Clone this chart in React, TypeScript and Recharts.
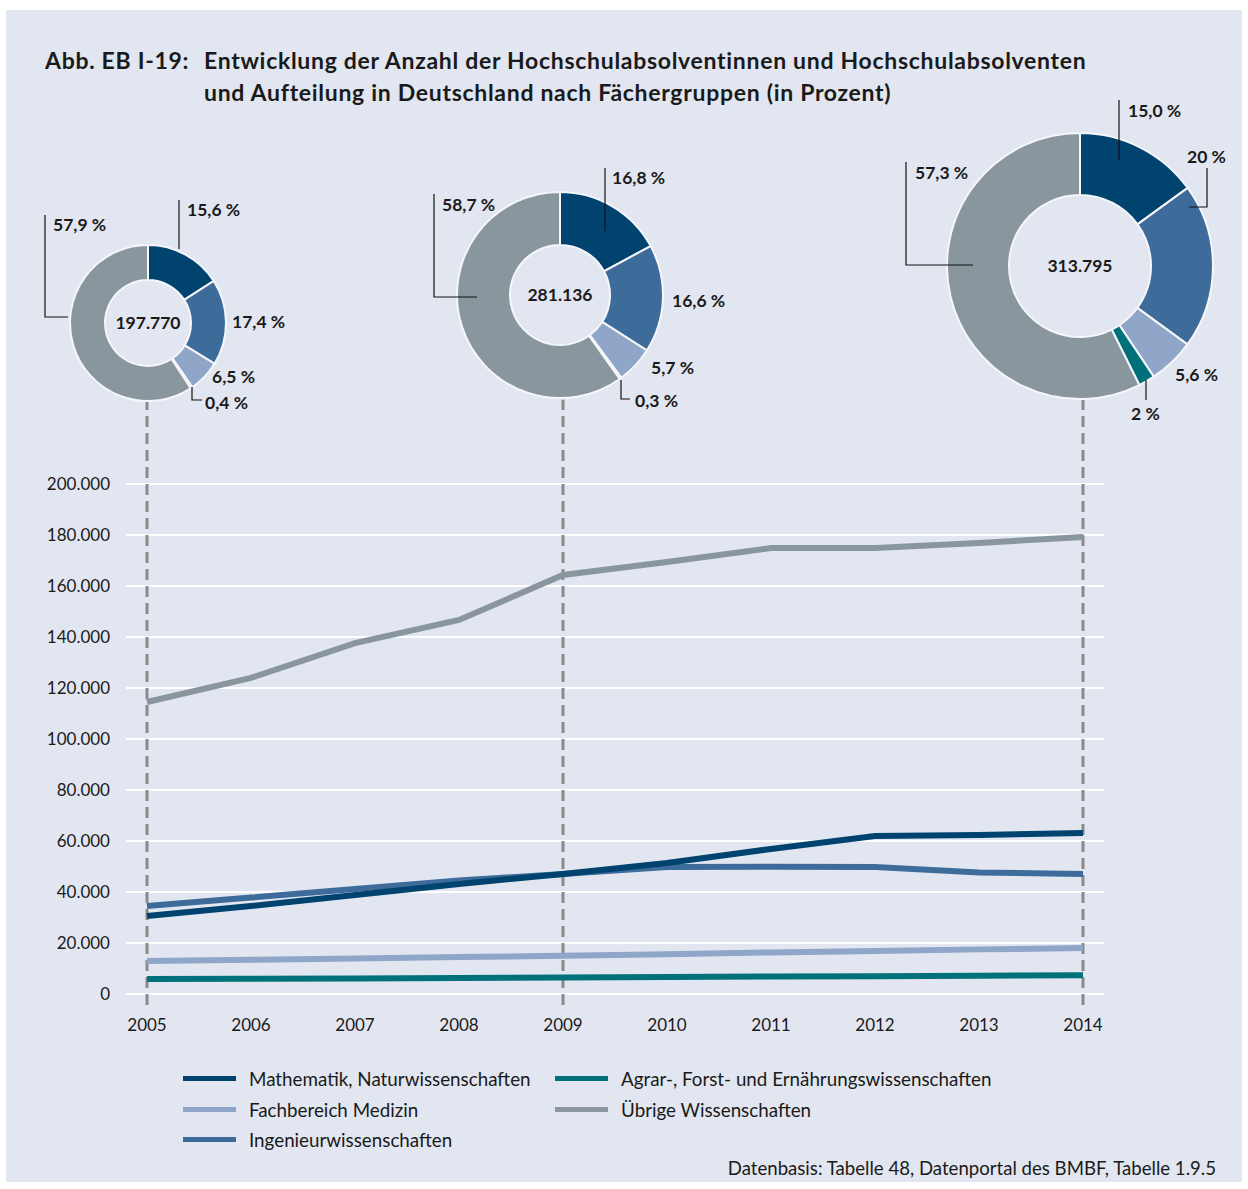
import {
  CartesianGrid,
  Cell,
  Label,
  Line,
  LineChart,
  Pie,
  PieChart,
  ReferenceLine,
  XAxis,
  YAxis,
} from "recharts"

// Absolventen je Fächergruppe
const years = [2005, 2006, 2007, 2008, 2009, 2010, 2011, 2012, 2013, 2014]
const mathe = [30600, 34500, 38800, 43100, 47100, 51400, 56900, 62000, 62400, 63100]
const ingenieur = [34500, 37800, 41200, 44500, 47100, 49800, 49900, 49800, 47600, 47100]
const medizin = [12900, 13400, 13900, 14500, 15000, 15600, 16300, 16900, 17500, 18000]
const agrar = [5900, 6000, 6100, 6300, 6500, 6700, 6900, 7000, 7200, 7400]
const uebrige = [114500, 124000, 137600, 146700, 164300, 169400, 174900, 174900, 176900, 179200]

const yTicks = [0, 20000, 40000, 60000, 80000, 100000, 120000, 140000, 160000, 180000, 200000]

// Donuts
const donutYears = [2005, 2009, 2014]
const donutTotals = ["197.770", "281.136", "313.795"]
const shares2005 = [15.6, 17.4, 6.5, 0.4, 57.9]
const shares2009 = [16.8, 16.6, 5.7, 0.3, 58.7]
const shares2014 = [15.0, 20, 5.6, 2, 57.3]
const labels2005 = ["15,6 %", "17,4 %", "6,5 %", "0,4 %", "57,9 %"]
const labels2009 = ["16,8 %", "16,6 %", "5,7 %", "0,3 %", "58,7 %"]
const labels2014 = ["15,0 %", "20 %", "5,6 %", "2 %", "57,3 %"]

const BG = "#e2e6f0"
const TEXT = "#1a1a1a"
const FONT = "Lato, 'Noto Sans', sans-serif"

const series = [
  { key: "uebrige", name: "Übrige Wissenschaften", color: "#89969e", values: uebrige },
  { key: "agrar", name: "Agrar-, Forst- und Ernährungswissenschaften", color: "#00717a", values: agrar },
  { key: "medizin", name: "Fachbereich Medizin", color: "#8fa6c8", values: medizin },
  { key: "ingenieur", name: "Ingenieurwissenschaften", color: "#3d6c9b", values: ingenieur },
  { key: "mathe", name: "Mathematik, Naturwissenschaften", color: "#00436f", values: mathe },
]

// Reihenfolge der Segmente im Uhrzeigersinn ab 12 Uhr
const sliceKeys = ["mathe", "ingenieur", "medizin", "agrar", "uebrige"]
const colorOf = (k: string) => series.find((s) => s.key === k)!.color

const lineData = years.map((year, i) => {
  const row: Record<string, number> = { year }
  series.forEach((s) => (row[s.key] = s.values[i]))
  return row
})

const fmt = (v: number) => v.toLocaleString("de-DE")

// layout of the three donuts and their callouts
const donutLayout = [
  {
    cx: 148, cy: 323, outer: 78, inner: 43, shares: shares2005, labels: labels2005,
    textPos: [[187, 209], [232, 321], [212, 376], [205, 402], [53, 224]],
    leaders: [
      [[179, 200], [179, 249]],
      null,
      null,
      [[192, 387], [192, 400], [202, 400]],
      [[45, 215], [45, 317], [68, 317]],
    ],
  },
  {
    cx: 560, cy: 295, outer: 103, inner: 50, shares: shares2009, labels: labels2009,
    textPos: [[612, 177], [672, 300], [651, 367], [635, 400], [442, 204]],
    leaders: [
      [[605, 168], [605, 231]],
      null,
      null,
      [[621, 380], [621, 399], [630, 399]],
      [[434, 194], [434, 297], [477, 297]],
    ],
  },
  {
    cx: 1080, cy: 266, outer: 133, inner: 71, shares: shares2014, labels: labels2014,
    textPos: [[1128, 110], [1187, 156], [1175, 374], [1131, 413], [915, 172]],
    leaders: [
      [[1119, 100], [1119, 160]],
      [[1207, 168], [1207, 207], [1189, 207]],
      null,
      [[1146, 380], [1146, 400]],
      [[906, 162], [906, 265], [973, 265]],
    ],
  },
]

function Donut({ idx }: { idx: number }) {
  const d = donutLayout[idx]
  const size = d.outer * 2 + 8
  const data = sliceKeys.map((k, i) => ({ name: k, value: d.shares[i] }))
  return (
    <div style={{ position: "absolute", left: d.cx - size / 2, top: d.cy - size / 2 }}>
      <PieChart width={size} height={size} margin={{ top: 0, right: 0, bottom: 0, left: 0 }}>
        <Pie
          data={data}
          dataKey="value"
          cx="50%"
          cy="50%"
          innerRadius={d.inner}
          outerRadius={d.outer}
          startAngle={90}
          endAngle={-270}
          stroke="#f4f6fa"
          strokeWidth={2}
          isAnimationActive={false}
        >
          {data.map((e) => (
            <Cell key={e.name} fill={colorOf(e.name)} />
          ))}
          <Label
            value={donutTotals[idx]}
            position="center"
            fill={TEXT}
            style={{ fontFamily: FONT, fontWeight: 700, fontSize: 17.5 }}
          />
        </Pie>
      </PieChart>
    </div>
  )
}

function Callouts() {
  return (
    <svg
      width={1248}
      height={1189}
      style={{ position: "absolute", left: 0, top: 0, pointerEvents: "none" }}
    >
      {donutLayout.map((d, di) =>
        d.labels.map((lab, i) => (
          <g key={`${di}-${i}`}>
            {d.leaders[i] && (
              <polyline
                points={d.leaders[i]!.map((p) => p.join(",")).join(" ")}
                fill="none"
                stroke="#111"
                strokeWidth={1.2}
              />
            )}
            <text
              x={d.textPos[i][0]}
              y={d.textPos[i][1]}
              dominantBaseline="central"
              fill={TEXT}
              style={{ fontFamily: FONT, fontWeight: 700, fontSize: 17.5 }}
            >
              {lab}
            </text>
          </g>
        ))
      )}
    </svg>
  )
}

const legendOrder = [
  ["mathe", "medizin", "ingenieur"],
  ["agrar", "uebrige"],
]

function LegendBlock() {
  const colX = [183, 555]
  const rowY = [1078, 1109, 1139]
  return (
    <>
      {legendOrder.map((col, ci) =>
        col.map((k, ri) => {
          const s = series.find((x) => x.key === k)!
          return (
            <div
              key={k}
              style={{
                position: "absolute",
                left: colX[ci],
                top: rowY[ri] - 12,
                height: 24,
                display: "flex",
                alignItems: "center",
                fontFamily: FONT,
                fontSize: 18.8,
                color: TEXT,
                whiteSpace: "nowrap",
              }}
            >
              <span
                style={{
                  display: "inline-block",
                  width: 53,
                  height: 5,
                  background: s.color,
                  marginRight: 13,
                }}
              />
              {s.name}
            </div>
          )
        })
      )}
    </>
  )
}

const titleStyle = {
  position: "absolute" as const,
  top: 44,
  fontFamily: FONT,
  fontWeight: 700,
  fontSize: 23,
  letterSpacing: 0.7,
  lineHeight: "32px",
  color: TEXT,
  whiteSpace: "nowrap" as const,
}

export default function App() {
  return (
    <div style={{ position: "absolute", left: 0, top: 0, width: 1248, height: 1189, background: "#fff" }}>
      <div style={{ position: "absolute", left: 6, top: 10, width: 1236, height: 1172, background: BG }} />

      <div style={{ ...titleStyle, left: 45 }}>Abb. EB I-19:</div>
      <div style={{ ...titleStyle, left: 204 }}>
        Entwicklung der Anzahl der Hochschulabsolventinnen und Hochschulabsolventen
        <br />
        und Aufteilung in Deutschland nach Fächergruppen (in Prozent)
      </div>

      <div style={{ position: "absolute", left: 0, top: 394 }}>
        <LineChart
          width={1248}
          height={660}
          data={lineData}
          margin={{ top: 90, right: 144, bottom: 30, left: 26 }}
        >
          <CartesianGrid vertical={false} stroke="#ffffff" strokeWidth={2} />
          <XAxis
            dataKey="year"
            type="number"
            domain={[2004.798, 2014.202]}
            ticks={years}
            axisLine={false}
            tickLine={false}
            tickMargin={19}
            height={30}
            tick={{ fill: TEXT, fontSize: 17, fontFamily: FONT }}
          />
          <YAxis
            domain={[0, 200000]}
            ticks={yTicks}
            tickFormatter={fmt}
            axisLine={false}
            tickLine={false}
            tickMargin={10}
            width={100}
            tick={{ fill: TEXT, fontSize: 17, fontFamily: FONT }}
          />
          {donutYears.map((y) => (
            <ReferenceLine
              key={y}
              segment={[
                { x: y, y: -4300 },
                { x: y, y: 233000 },
              ]}
              ifOverflow="visible"
              stroke="#8a8a8a"
              strokeWidth={3}
              strokeDasharray="11 6"
            />
          ))}
          {series.map((s) => (
            <Line
              key={s.key}
              dataKey={s.key}
              name={s.name}
              type="linear"
              stroke={s.color}
              strokeWidth={6}
              dot={false}
              isAnimationActive={false}
            />
          ))}
        </LineChart>
      </div>

      {donutLayout.map((_, i) => (
        <Donut key={i} idx={i} />
      ))}
      <Callouts />

      <LegendBlock />

      <div
        style={{
          position: "absolute",
          right: 32,
          top: 1156,
          fontFamily: FONT,
          fontSize: 18.6,
          lineHeight: "24px",
          color: TEXT,
          whiteSpace: "nowrap",
        }}
      >
        Datenbasis: Tabelle 48, Datenportal des BMBF, Tabelle 1.9.5
      </div>
    </div>
  )
}
